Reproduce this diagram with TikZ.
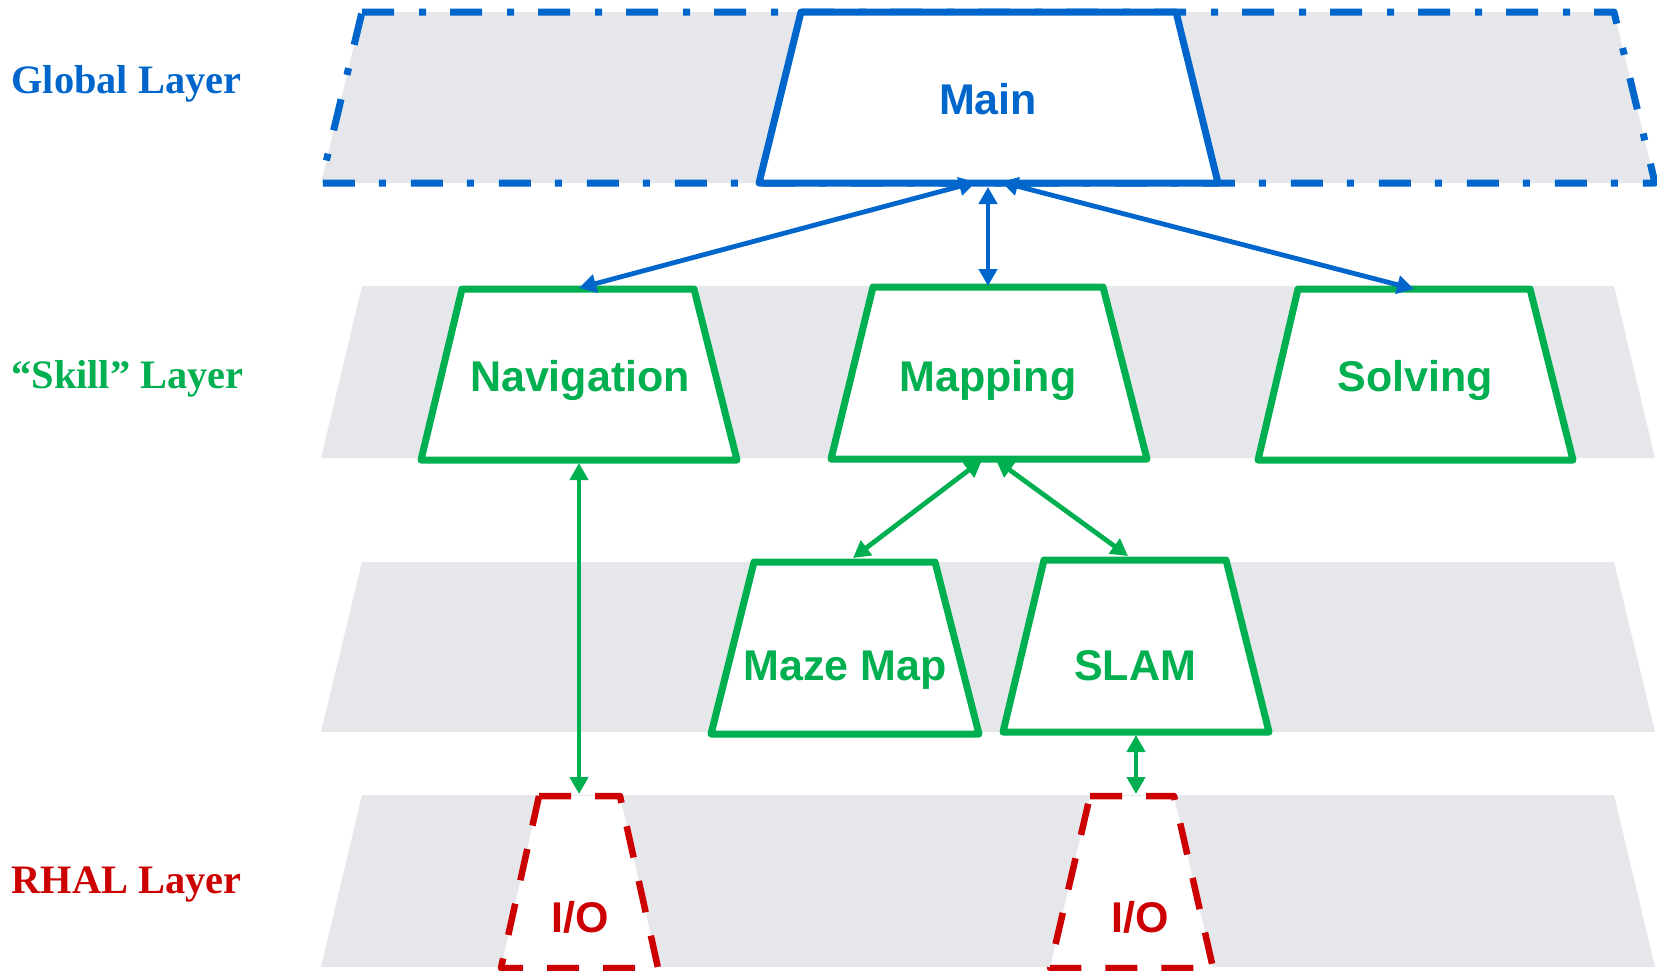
\documentclass[tikz,border=0pt]{standalone}
\usepackage{fontspec}
\usetikzlibrary{arrows.meta}
\newfontfamily\boxfont{Liberation Sans}
\newfontfamily\layerfont{Liberation Serif}

\definecolor{gblue}{RGB}{0,102,204}
\definecolor{sgreen}{RGB}{0,176,80}
\definecolor{rred}{RGB}{204,0,0}
\definecolor{bandgray}{RGB}{230,231,235}

\tikzset{
  band/.style={fill=bandgray},
  globaloutline/.style={draw=gblue, line width=3.5pt, line join=round,
    dash pattern=on 16pt off 12.5pt on 3.5pt off 12pt},
  globalbox/.style={draw=gblue, fill=white, line width=3.5pt, line join=round},
  skillbox/.style={draw=sgreen, fill=white, line width=3.5pt, line join=round},
  halbox/.style={draw=rred, fill=white, line width=3.25pt, line join=round,
    dash pattern=on 16pt off 12pt},
  boxtext/.style={font=\boxfont\bfseries\fontsize{21.5}{24}\selectfont,
    anchor=base, inner sep=0pt},
  layertext/.style={font=\layerfont\bfseries\fontsize{20.2}{24}\selectfont,
    anchor=base west, inner sep=0pt},
  tip/.tip={Triangle[length=8.5pt,width=9pt]},
  blink/.style={draw=gblue, line width=2.4pt, tip-tip},
  glink/.style={draw=sgreen, line width=2.4pt, tip-tip}
}

\begin{document}
\begin{tikzpicture}[x=0.5pt,y=-0.5pt]
\useasboundingbox (0,0) rectangle (1657,970);

% layer bands
\fill[band] (362,12) -- (1614,12) -- (1655,183) -- (321,183) -- cycle;
\fill[band] (362,286) -- (1614,286) -- (1655,458) -- (321,458) -- cycle;
\fill[band] (362,562) -- (1614,562) -- (1655,732) -- (321,732) -- cycle;
\fill[band] (362,795) -- (1614,795) -- (1655,967) -- (321,967) -- cycle;
\draw[globaloutline] (362,12) -- (1614,12) -- (1655,183) -- (321,183) -- cycle;

% layer names
\node[layertext, text=gblue]  (lglobal) at (11,93)  {Global Layer};
\node[layertext, text=sgreen] (lskill)  at (11,388) {“Skill” Layer};
\node[layertext, text=rred]   (lrhal)   at (11,893) {RHAL Layer};

% modules
\draw[globalbox] (801,12) -- (1176,12) -- (1218,183) -- (759,183) -- cycle;
\draw[skillbox] (462,289) -- (694,289) -- (737,460) -- (421,460) -- cycle;
\draw[skillbox] (873,287) -- (1103,287) -- (1147,459) -- (831,459) -- cycle;
\draw[skillbox] (1298,289) -- (1530,289) -- (1573,460) -- (1258,460) -- cycle;
\draw[skillbox] (754,562) -- (935,562) -- (979,734) -- (711,734) -- cycle;
\draw[skillbox] (1044,560) -- (1226,560) -- (1269,732) -- (1003,732) -- cycle;
\draw[halbox] (539,796) -- (620,796) -- (658,968) -- (501,968) -- cycle;
\draw[halbox] (1090,796) -- (1174,796) -- (1213,968) -- (1050,968) -- cycle;

\node[boxtext, text=gblue]  (main) at (988,114)  {Main};
\node[boxtext, text=sgreen] (nav)  at (580,391)  {Navigation};
\node[boxtext, text=sgreen] (map)  at (988,391)  {Mapping};
\node[boxtext, text=sgreen] (solv) at (1415,391) {Solving};
\node[boxtext, text=sgreen] (maze) at (845,680)  {Maze Map};
\node[boxtext, text=sgreen] (slam) at (1135,680) {SLAM};
\node[boxtext, text=rred]   (ioa)  at (580,932)  {I/O};
\node[boxtext, text=rred]   (iob)  at (1140,932) {I/O};

% connector ends on the module outlines
\coordinate (main-bl) at (976,182);
\coordinate (main-b)  at (988,187);
\coordinate (main-br) at (1001,182);
\coordinate (nav-t)   at (579,288);
\coordinate (map-t)   at (988,286);
\coordinate (solv-t)  at (1414,289);
\coordinate (nav-b)   at (579,463);
\coordinate (map-bl)  at (982,460);
\coordinate (map-br)  at (996,460);
\coordinate (maze-t)  at (853,558);
\coordinate (slam-t)  at (1128,556);
\coordinate (slam-b)  at (1136,735);
\coordinate (ioa-t)   at (579,794);
\coordinate (iob-t)   at (1136,794);

% connectors
\draw[blink] (main-bl) -- (nav-t);
\draw[blink] (main-b) -- (map-t);
\draw[blink] (main-br) -- (solv-t);
\draw[glink] (nav-b) -- (ioa-t);
\draw[glink] (map-bl) -- (maze-t);
\draw[glink] (map-br) -- (slam-t);
\draw[glink] (slam-b) -- (iob-t);
\end{tikzpicture}
\end{document}
